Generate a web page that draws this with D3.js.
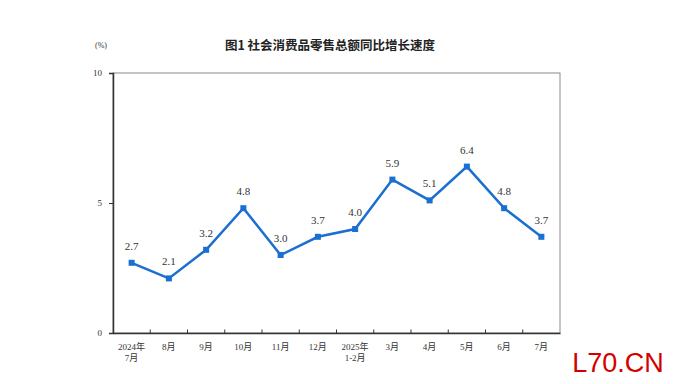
<!DOCTYPE html>
<html><head><meta charset="utf-8">
<script src="https://cdn.jsdelivr.net/npm/d3@7"></script>
<style>body{margin:0;background:#fff}svg{display:block}</style>
</head><body><svg id="c" width="674" height="384"></svg>
<script>
const categories = ["2024年\n7月","8月","9月","10月","11月","12月","2025年\n1-2月","3月","4月","5月","6月","7月"];
const values = [2.7,2.1,3.2,4.8,3.0,3.7,4.0,5.9,5.1,6.4,4.8,3.7];
const yTicks = [0,5,10];
const title = "图1  社会消费品零售总额同比增长速度";
const unit = "(%)";
const watermark = "L70.CN";

const svg = d3.select("#c");
const L=113,R=560,T=73,B=333;
const x = d3.scaleBand().domain(categories).range([L,R]);
const y = d3.scaleLinear().domain([0,10]).range([B,T]);
const serif = "'Liberation Serif','Noto Sans CJK SC',serif";

// frame
svg.append("rect").attr("x",L).attr("y",T).attr("width",R-L).attr("height",B-T)
  .attr("fill","none").attr("stroke","#8a8a8a").attr("stroke-width",1);

// y axis
const ya = svg.append("g").attr("transform",`translate(${L},0)`)
  .call(d3.axisLeft(y).tickValues(yTicks).tickSize(4).tickPadding(7));
ya.select(".domain").attr("stroke","#333").attr("stroke-width",1.5);
ya.selectAll(".tick line").attr("stroke","#333");
ya.selectAll("text").attr("font-family",serif).attr("font-size",9).attr("fill","#333");

// x axis
const xa = svg.append("g").attr("transform",`translate(0,${B})`)
  .call(d3.axisBottom(x).tickSize(0).tickFormat(""));
xa.select(".domain").attr("stroke","#333").attr("stroke-width",1.5);
// boundary ticks
const bounds = categories.slice(1).map(c=>x(c));
xa.selectAll(".btick").data(bounds).enter().append("line")
  .attr("x1",d=>d).attr("x2",d=>d).attr("y1",0).attr("y2",-3.5)
  .attr("stroke","#333").attr("stroke-width",1);
const xl = xa.selectAll(".xl").data(categories).enter().append("text")
  .attr("x",d=>x(d)+x.bandwidth()/2).attr("y",17)
  .attr("text-anchor","middle").attr("font-family",serif).attr("font-size",9).attr("fill","#333");
xl.each(function(d){
  const parts=d.split("\n");
  d3.select(this).selectAll("tspan").data(parts).enter().append("tspan")
    .attr("x",x(d)+x.bandwidth()/2).attr("dy",(p,i)=>i?11:0).text(p=>p);
});

// line
const cx = (d,i)=>x(categories[i])+x.bandwidth()/2;
svg.append("path").datum(values)
  .attr("d",d3.line().x(cx).y(d=>y(d)))
  .attr("fill","none").attr("stroke","#1a6fd0").attr("stroke-width",2.5).attr("stroke-linejoin","miter");
svg.selectAll(".pt").data(values).enter().append("rect")
  .attr("x",(d,i)=>cx(d,i)-3).attr("y",d=>y(d)-3).attr("width",6).attr("height",6)
  .attr("fill","#1a6fd0");
svg.selectAll(".lb").data(values).enter().append("text")
  .attr("x",cx).attr("y",d=>y(d)-13).attr("text-anchor","middle")
  .attr("font-family",serif).attr("font-size",11).attr("fill","#333").text(d=>d.toFixed(1));

// title & unit
svg.append("text").attr("x",330).attr("y",50).attr("text-anchor","middle")
  .attr("font-family","'Noto Sans CJK SC',sans-serif").attr("font-size",12.5).attr("font-weight","bold")
  .attr("fill","#222").text(title);
svg.append("text").attr("x",101).attr("y",48).attr("text-anchor","middle")
  .attr("font-family",serif).attr("font-size",8).attr("fill","#333").text(unit);

// watermark
svg.append("text").attr("x",618).attr("y",372).attr("text-anchor","middle")
  .attr("font-family","'Liberation Sans',Arial,sans-serif").attr("font-size",27).attr("fill","#d40000").text(watermark);
</script></body></html>
